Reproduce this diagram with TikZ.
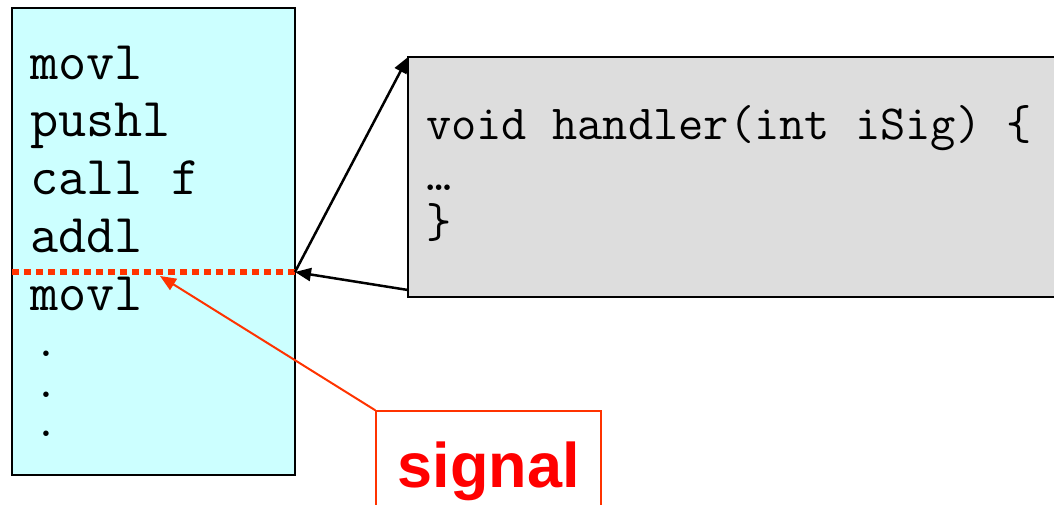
\documentclass[tikz,border=0pt]{standalone}
\usepackage{fontspec}
\setmainfont{Liberation Sans}
\newfontfamily\lmr{Latin Modern Roman}
\usetikzlibrary{arrows.meta}
\definecolor{cyanfill}{HTML}{CCFFFF}
\definecolor{grayfill}{HTML}{DDDDDD}
\definecolor{sigline}{HTML}{FF3300}
\definecolor{sigtext}{HTML}{FF0000}
\tikzset{
  box/.style={draw=black, line width=2pt, inner sep=0pt},
  codeL/.style={anchor=base west, inner sep=0pt, font=\ttfamily\fontsize{54.7}{57}\selectfont},
  codeDot/.style={anchor=base west, inner sep=0pt, font=\lmr\bfseries\fontsize{38}{40}\selectfont},
  codeR/.style={anchor=base west, inner sep=0pt, font=\ttfamily\fontsize{49}{52}\selectfont},
  blackarrow/.style={draw=black, line width=2.5pt, -{Triangle[length=16pt,width=13pt]}},
  redarrow/.style={draw=sigline, line width=2pt, -{Triangle[length=16pt,width=13pt]}},
  breakline/.style={draw=sigline, line width=6pt, dash pattern=on 7pt off 5pt},
}
\begin{document}
\begin{tikzpicture}[x=1pt,y=-1pt]
\useasboundingbox (0,0) rectangle (1054,505);
\begin{scope}
\clip (0,0) rectangle (1054,505);
% left code box
\node[box, fill=cyanfill, minimum width=283pt, minimum height=467pt] (code) at (153.5,241.5) {};
\node[codeL] (l1) at (30,80) {movl};
\node[codeL] (l2) at (30,137) {pushl};
\node[codeL] (l3) at (30,194) {call f};
\node[codeL] (l4) at (30,252) {addl};
\node[codeL] (l5) at (30,310) {movl};
\node[codeDot] (d1) at (40,356) {.};
\node[codeDot] (d2) at (40,397) {.};
\node[codeDot] (d3) at (40,436) {.};
% break line
\coordinate (bl) at (12,272);
\coordinate (brk) at (295,272);
\draw[breakline] (bl) -- (brk);
% handler box
\node[box, fill=grayfill, minimum width=680pt, minimum height=240pt] (handler) at (748,177) {};
\node[codeR] (h1) at (426,140) {void handler(int iSig) \{};
\node[codeR] (h2) at (426,190) {…};
\node[codeR] (h3) at (426,237) {\}};
\coordinate (hin) at (408,57);
\coordinate (hout) at (408,290);
\draw[blackarrow] (brk) -- (hin);
\draw[blackarrow] (hout) -- (brk);
% signal box
\node[draw=sigline, line width=1.5pt, minimum width=225pt, minimum height=130pt, inner sep=0pt] (sigbox) at (488.5,476) {};
\node[anchor=base, inner sep=0pt, text=sigtext, font=\bfseries\fontsize{63}{70}\selectfont] (sig) at (488.5,487) {signal};
\coordinate (hit) at (160,276);
\draw[redarrow] (sigbox.north west) -- (hit);
\end{scope}
\end{tikzpicture}
\end{document}
